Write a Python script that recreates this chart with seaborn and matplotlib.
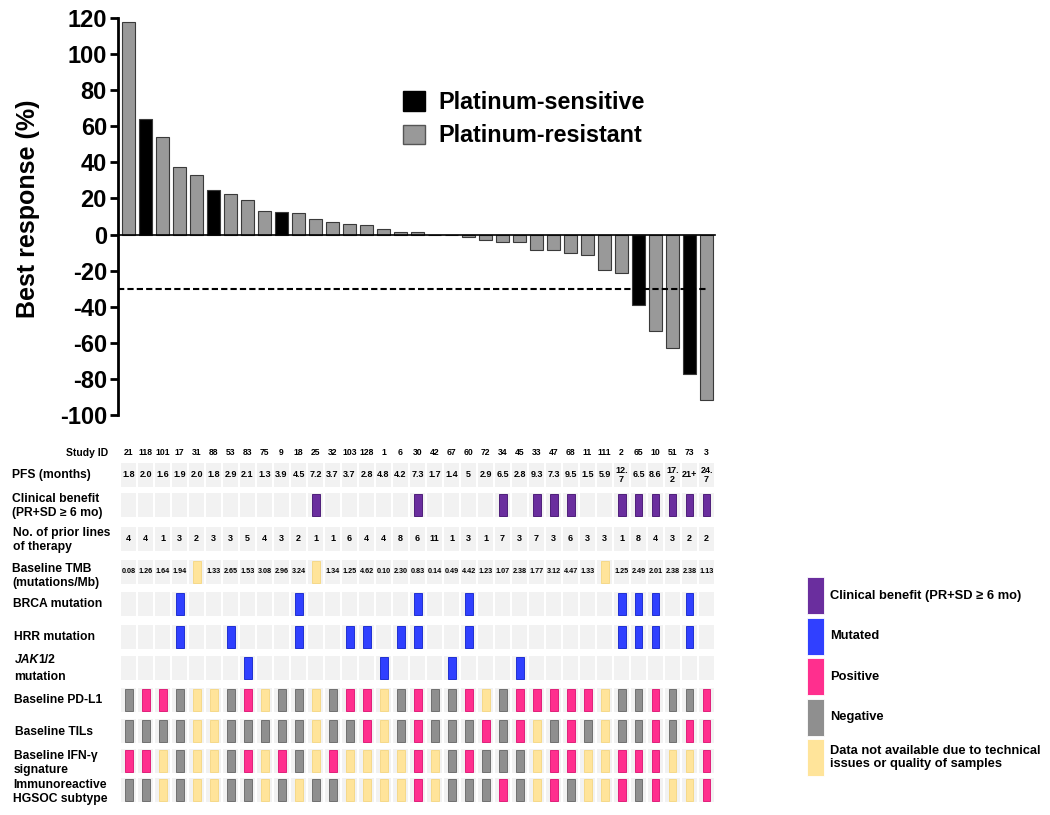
import numpy as np
import pandas as pd
import matplotlib
matplotlib.use('Agg')
import matplotlib.pyplot as plt
import seaborn as sns
from matplotlib.patches import Patch, Rectangle

# per-patient data, ordered as in the waterfall
study_id = ['21', '118', '101', '17', '31', '88', '53', '83', '75', '9', '18', '25',
            '32', '103', '128', '1', '6', '30', '42', '67', '60', '72', '34', '45',
            '33', '47', '68', '11', '111', '2', '65', '10', '51', '73', '3']
best_response = [118, 64, 54, 37.3, 33, 24.5, 22.5, 19.4, 12.9, 12.5, 12, 8.5,
                 6.8, 6.1, 5.4, 3.0, 1.5, 1.3, 0, 0, -1.5, -3.1, -3.9, -3.9,
                 -8.3, -8.5, -10.1, -11.3, -19.7, -21.4, -39.1, -53.7, -63.1, -77.5, -91.9]
platinum_sensitive = ['118', '88', '9', '65', '73']

pfs = ['1.8', '2.0', '1.6', '1.9', '2.0', '1.8', '2.9', '2.1', '1.3', '3.9', '4.5', '7.2',
       '3.7', '3.7', '2.8', '4.8', '4.2', '7.3', '1.7', '1.4', '5', '2.9', '6.5', '2.8',
       '9.3', '7.3', '9.5', '1.5', '5.9', '12.\n7', '6.5', '8.6', '17.\n2', '21+', '24.\n7']
prior_lines = [4, 4, 1, 3, 2, 3, 3, 5, 4, 3, 2, 1, 1, 6, 4, 4, 8, 6, 11, 1, 3, 1, 7, 3,
               7, 3, 6, 3, 3, 1, 8, 4, 3, 2, 2]
tmb = ['0.08', '1.26', '1.64', '1.94', None, '1.33', '2.65', '1.53', '3.08', '2.96', '3.24', None,
       '1.34', '1.25', '4.62', '0.10', '2.30', '0.83', '0.14', '0.49', '4.42', '1.23', '1.07', '2.38',
       '1.77', '3.12', '4.47', '1.33', None, '1.25', '2.49', '2.01', '2.38', '2.38', '1.13']

clinical_benefit = ['25', '30', '34', '33', '47', '68', '2', '65', '10', '51', '73', '3']
brca_mut = ['17', '18', '30', '60', '2', '65', '10', '73']
hrr_mut = ['17', '53', '18', '103', '128', '6', '30', '60', '2', '65', '10', '73']
jak_mut = ['83', '1', '67', '45']

# P = positive, N = negative, U = not available
pd_l1 = list('NPPNUUNPUNNUNPP' + 'UNPNNPUNPPPPPUNNPNNP')
tils = list('NNNNUUNNNNNUNNP' + 'UNPNNNPNPUNPNUNNPNPP')
ifn = list('PPUNUUNPUPNUPUU' + 'UUPUNPNNNUPPUUPPPUUP')
immuno = list('NNUNUUNNUNUNNUU' + 'UUPUNNNPNUPNUUPNPUUP')

W, H = 1050, 815
def fx(px):
    return px / W
def fy(py):
    return 1 - py / H

sns.set_theme(style='white')
plt.rcParams['font.family'] = ['Liberation Sans', 'DejaVu Sans']
plt.rcParams['axes.unicode_minus'] = False
plt.rcParams['text.color'] = 'black'
plt.rcParams['axes.labelcolor'] = 'black'
plt.rcParams['ytick.color'] = 'black'

purple = '#6a2e9e'
blue = '#3040ff'
pink = '#ff2f8e'
grey = '#8f8f8f'
yellow = '#ffe49a'
cell_bg = '#f2f2f2'

fig = plt.figure(figsize=(10.5, 8.15), dpi=100)

# waterfall
ax = fig.add_axes([fx(118), fy(415), (715 - 118) / W, (415 - 18) / H])
df = pd.DataFrame({'study': study_id, 'response': best_response})
df['group'] = ['Platinum-sensitive' if s in platinum_sensitive else 'Platinum-resistant' for s in df.study]
sns.barplot(data=df, x='study', y='response', hue='group', order=study_id,
            palette={'Platinum-sensitive': 'black', 'Platinum-resistant': '#999999'},
            dodge=False, width=0.8, saturation=1, errorbar=None, legend=False,
            edgecolor='#3a3a3a', linewidth=0.8, ax=ax)
ax.set_xlim(-0.62, 34.5)
ax.set_ylim(-100, 120)
ax.spines['top'].set_visible(False)
ax.spines['right'].set_visible(False)
ax.spines['bottom'].set_position(('data', 0))
ax.spines['bottom'].set_color('black')
ax.spines['bottom'].set_linewidth(1.2)
ax.spines['left'].set_color('black')
ax.spines['left'].set_linewidth(2)
ax.set_xticks([])
ax.set_xlabel('')
ax.set_yticks(range(-100, 121, 20))
ax.tick_params(axis='y', left=True, direction='out', length=6, width=2, labelsize=17, pad=2, colors='black')
for lbl in ax.get_yticklabels():
    lbl.set_fontweight('bold')
ax.set_ylabel('Best response (%)', fontsize=18, fontweight='bold', color='black')
ax.yaxis.set_label_coords(-0.13, 0.52)
ax.axhline(-30, xmin=0, xmax=(708 - 118) / 597, color='black', lw=1.5, ls=(0, (3, 1.5)))

handles = [Patch(facecolor='black', edgecolor='black'),
           Patch(facecolor='#999999', edgecolor='#555555')]
leg = ax.legend(handles, ['Platinum-sensitive', 'Platinum-resistant'], loc='upper left',
                bbox_to_anchor=(fx(403), fy(91)), bbox_transform=fig.transFigure,
                frameon=False, borderpad=0, borderaxespad=0, handlelength=0.95, handleheight=0.9,
                handletextpad=0.55, labelspacing=0.45, fontsize=16.8)
for t in leg.get_texts():
    t.set_fontweight('bold')

# annotation table
axt = fig.add_axes([fx(118), fy(812), (715 - 118) / W, (812 - 440) / H])
axt.set_xlim(-0.62, 34.5)
axt.set_ylim(812, 440)
axt.axis('off')

cols = np.arange(len(study_id))
row_y = [475, 505, 539, 572, 604, 637, 668, 700, 731, 761, 790]
for y in row_y:
    axt.bar(cols, 24, bottom=y - 12, width=0.88, color=cell_bg, linewidth=0)

def marks(y, flags, color, edge):
    flags = np.array(flags)
    axt.bar(cols[flags], 22, bottom=y - 11, width=0.47, color=color,
            edgecolor=edge, linewidth=0.7)

for i, sid in enumerate(study_id):
    axt.text(i, 453, sid, ha='center', va='center', fontsize=6.2, fontweight='bold')
    axt.text(i, row_y[0], pfs[i], ha='center', va='center', fontsize=6.5,
             fontweight='bold', linespacing=1.0)
    axt.text(i, row_y[2], str(prior_lines[i]), ha='center', va='center', fontsize=6.5, fontweight='bold')
    if tmb[i] is not None:
        axt.text(i, row_y[3], tmb[i], ha='center', va='center', fontsize=5.2, fontweight='bold')

marks(row_y[1], [s in clinical_benefit for s in study_id], purple, '#4f1f7a')
marks(row_y[3], [v is None for v in tmb], yellow, '#f5d98a')
marks(row_y[4], [s in brca_mut for s in study_id], blue, '#2030d0')
marks(row_y[5], [s in hrr_mut for s in study_id], blue, '#2030d0')
marks(row_y[6], [s in jak_mut for s in study_id], blue, '#2030d0')

for y, row in zip(row_y[7:], [pd_l1, tils, ifn, immuno]):
    for code, color, edge in [('P', pink, '#e0207a'), ('N', grey, '#707070'), ('U', yellow, '#f5d98a')]:
        marks(y, [c == code for c in row], color, edge)

fig.text(fx(108), fy(453), 'Study ID', ha='right', va='center', fontsize=7.5, fontweight='bold')
labels = ['PFS (months)', 'Clinical benefit\n(PR+SD ≥ 6 mo)', 'No. of prior lines\nof therapy',
          'Baseline TMB\n(mutations/Mb)', 'BRCA mutation', 'HRR mutation', None,
          'Baseline PD-L1', 'Baseline TILs', 'Baseline IFN-γ\nsignature', 'Immunoreactive\nHGSOC subtype']
label_y = [475, 506, 540, 576, 604, 637, 668, 700, 732, 763, 792]
label_x = [12, 12, 13, 12, 13, 14, 14, 14, 15, 14, 13]
for lab, x, y in zip(labels, label_x, label_y):
    if lab is None:
        continue
    fig.text(fx(x), fy(y), lab, ha='left', va='center', fontsize=8.7, fontweight='bold', linespacing=1.15)
t_jak = fig.text(fx(15), fy(660), 'JAK', ha='left', va='center', fontsize=8.7,
                 fontweight='bold', fontstyle='italic')
fig.text(fx(14), fy(677), 'mutation', ha='left', va='center', fontsize=8.7, fontweight='bold')
axt.annotate('1/2', xy=(1, 0.5), xycoords=t_jak, xytext=(-0.5, 0), textcoords='offset points',
             ha='left', va='center', fontsize=8.7, fontweight='bold')

# key for the table, drawn in pixel units
axk = fig.add_axes([fx(800), fy(790), 250 / W, 220 / H])
axk.set_xlim(800, 1050)
axk.set_ylim(790, 570)
axk.axis('off')
key_colors = [purple, blue, pink, grey, yellow]
key_labels = ['Clinical benefit (PR+SD ≥ 6 mo)', 'Mutated', 'Positive', 'Negative',
              'Data not available due to technical\nissues or quality of samples']
for k, (c, lab) in enumerate(zip(key_colors, key_labels)):
    top = 577 + k * 40.5
    axk.add_patch(Rectangle((807, top), 17, 37, facecolor=c, edgecolor='white', linewidth=0.6))
    axk.text(830, top + 18.5, lab, ha='left', va='center', fontsize=9.3,
             fontweight='bold', linespacing=1.2)

plt.savefig('out.png', dpi=100)
